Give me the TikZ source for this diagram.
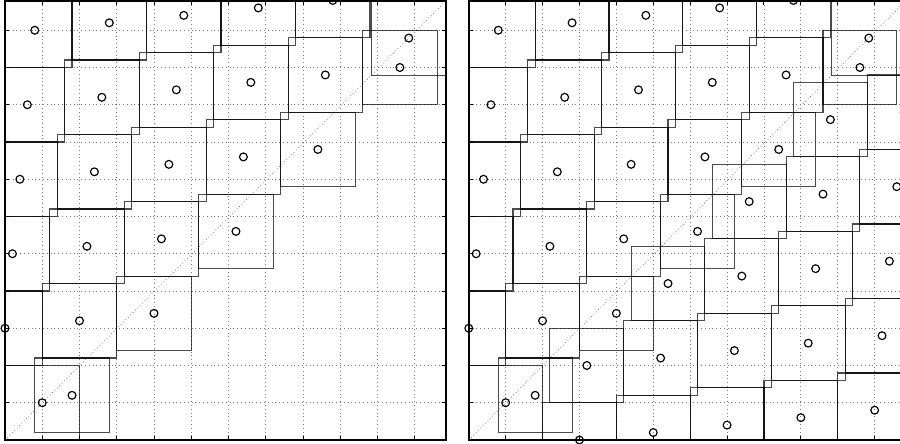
\documentclass[tikz,border=0pt]{standalone}
\definecolor{GridGray}{RGB}{125,125,125}
\tikzset{
  frame/.style={draw=black,line width=1.4pt},
  gridline/.style={draw=GridGray,line width=0.65pt,dash pattern=on 0.65pt off 2.6pt},
  diagline/.style={draw=GridGray,line width=0.65pt,dash pattern=on 0.65pt off 2.2pt},
  tile/.style={draw=black,line width=0.95pt,draw opacity=0.7},
  marker/.style={draw=black,line width=1pt},
  tickmark/.style={draw=black,line width=0.8pt}
}
% dotted grid, ticks and diagonal of one panel
\newcommand{\axesbox}{%
  \foreach \t in {1,...,11} {
    \draw[gridline] (\t,0) -- (\t,11.79);
    \draw[gridline] (0,\t) -- (11.84,\t);
    \draw[tickmark] (\t,0) -- (\t,0.12) (\t,11.79) -- (\t,11.67);
    \draw[tickmark] (0,\t) -- (0.12,\t) (11.84,\t) -- (11.72,\t);
  }
  \draw[diagline] (0,0) -- (11.84,11.79);}
\newcommand{\tilesq}[2]{\draw[tile] (#1-1,#2-1) rectangle ++(2,2);}
\newcommand{\markat}[2]{\draw[marker] (#1,#2) circle (0.105);}
% tiles above the diagonal
\newcommand{\upperset}[1]{%
  \foreach \j/\imax in {0/4,1/5,2/4,3/3,4/2}
    \foreach \i in {0,...,\imax}
      {#1{0.8+2*\i-0.2*\j}{11+0.2*\i-2*\j}}
  #1{1.8}{1.2}
  #1{10.84}{10.79}
  #1{1}{1}}
% tiles below the diagonal
\newcommand{\lowerset}[1]{%
  \foreach \l/\kmin in {0/0,1/0,2/1,3/2,4/3}
    \foreach \k in {\kmin,...,4}
      {#1{3+2*\k+0.2*\l}{0.2*\k+2*\l}}}

\begin{document}
\begin{tikzpicture}[x=1.1175cm,y=1.1175cm]
  \useasboundingbox (-0.134,-0.107) rectangle (24.027,11.812);
  \clip (-0.134,-0.107) rectangle (24.027,11.812);
  % left panel
  \axesbox
  \begin{scope}
    \clip (0,0) rectangle (11.84,11.79);
    \upperset\tilesq
  \end{scope}
  \upperset\markat
  \draw[frame] (0,0) rectangle (11.84,11.79);
  % right panel
  \begin{scope}[shift={(12.45,0)},xscale=0.9906]
    \axesbox
    \begin{scope}
      \clip (0,0) rectangle (11.84,11.79);
      \upperset\tilesq
      \lowerset\tilesq
    \end{scope}
    \upperset\markat
    \lowerset\markat
    \draw[frame] (0,0) rectangle (11.84,11.79);
  \end{scope}
\end{tikzpicture}
\end{document}
